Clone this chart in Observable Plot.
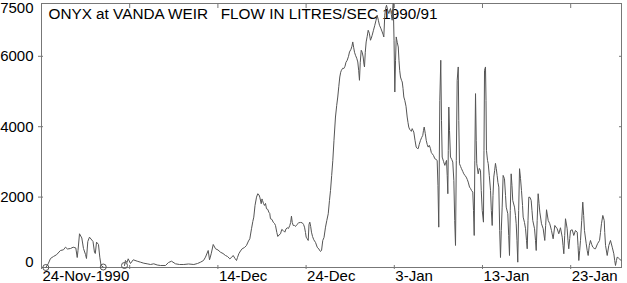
<!DOCTYPE html>
<html>
<head>
<meta charset="utf-8">
<script src="https://cdn.jsdelivr.net/npm/d3@7"></script>
<script src="https://cdn.jsdelivr.net/npm/@observablehq/plot@0.6"></script>
<style>
  html, body { margin: 0; padding: 0; background: #fff; }
  svg text { white-space: pre; }
</style>
</head>
<body>
<div id="chart"></div>
<script>
// Chart text
const title = "ONYX at VANDA WEIR   FLOW IN LITRES/SEC 1990/91";

// Days since 24-Nov-1990 00:00 (fractional) and flow in litres/sec; null = gap in record
const days = [
  0.49,0.76,1.02,1.36,1.70,2.15,2.49,2.72,2.95,3.29,3.59,3.89,4.05,4.14,4.31,4.57,4.76,4.99,5.10,5.25,
  5.44,5.61,5.84,6.01,6.10,6.24,6.46,6.61,6.75,7.00,
  8.20,
  9.41,9.52,9.69,9.83,10.09,10.40,10.85,11.22,11.60,11.98,12.36,12.73,13.12,13.49,14.06,14.40,14.74,15.19,15.65,
  16.13,16.67,17.27,17.69,18.03,18.37,18.59,18.90,19.05,19.24,19.47,19.73,20.01,20.29,20.58,20.86,21.09,21.35,21.54,21.73,
  21.94,22.11,22.22,22.37,22.56,22.75,23.02,23.24,23.47,23.62,23.81,23.96,24.07,24.21,24.38,24.52,24.66,24.75,24.91,25.00,
  25.06,25.17,25.28,25.40,25.51,25.66,25.77,25.88,25.96,26.13,26.27,26.42,26.53,26.68,26.79,26.93,27.10,27.24,27.40,27.59,
  27.72,27.86,28.00,28.15,28.25,28.34,28.43,28.54,28.68,28.80,28.97,29.17,29.37,29.56,29.71,29.82,29.93,30.01,30.10,30.24,
  30.33,30.42,30.52,30.61,30.73,30.87,31.07,31.26,31.44,31.63,31.75,31.89,32.03,32.20,32.35,32.51,32.65,32.77,32.90,33.03,
  33.16,33.33,33.47,33.59,33.71,33.82,33.92,34.01,34.15,34.27,34.41,34.52,34.66,34.81,34.92,35.09,35.20,35.29,35.39,35.49,
  35.60,35.74,35.86,35.96,36.05,36.14,36.25,36.36,36.47,36.56,36.62,36.71,36.81,36.93,37.04,37.17,37.30,37.39,37.49,37.64,
  37.79,37.93,38.06,38.19,38.32,38.47,38.63,38.72,38.81,38.92,39.02,39.12,39.25,39.38,39.48,39.57,39.66,39.76,39.83,39.88,
  39.97,40.06,40.14,40.22,40.33,40.45,40.53,40.61,40.70,40.82,40.90,40.99,41.08,41.19,41.33,41.46,41.55,41.64,41.74,41.84,
  41.93,42.03,42.12,42.21,42.35,42.48,42.60,42.71,42.83,42.97,43.11,43.23,43.31,43.39,43.51,43.62,43.73,43.84,43.97,44.10,
  44.19,44.29,44.44,44.59,44.72,44.86,44.95,45.04,45.16,45.27,45.35,45.43,45.58,45.73,45.83,45.92,46.00,46.07,46.12,46.18,
  46.26,46.37,46.51,46.63,46.75,46.85,46.94,47.03,47.13,47.25,47.31,47.39,47.51,47.62,47.76,47.88,48.01,48.15,48.27,48.38,
  48.53,48.64,48.75,48.90,48.98,49.06,49.13,49.21,49.29,49.35,49.51,49.64,49.77,49.86,49.97,50.11,50.17,50.23,50.34,50.40,
  50.45,50.57,50.65,50.77,50.91,51.00,51.10,51.19,51.28,51.38,51.47,51.56,51.66,51.75,51.85,51.95,52.04,52.13,52.23,52.34,
  52.49,52.61,52.69,52.87,52.97,53.06,53.15,53.25,53.34,53.43,53.63,53.74,53.82,53.91,54.00,54.10,54.20,54.31,54.42,54.54,
  54.61,54.76,54.88,54.99,55.07,55.16,55.25,55.39,55.52,55.61,55.70,55.90,56.01,56.09,56.20,56.31,56.41,56.50,56.69,56.88,
  57.06,57.16,57.26,57.45,57.63,57.82,58.01,58.20,58.47,58.65,58.84,59.04,59.13,59.22,59.32,59.41,59.60,59.69,59.78,59.89,
  59.98,60.17,60.35,60.54,60.74,60.83,60.92,61.02,61.11,61.25,61.37,61.47,61.56,61.76,61.87,61.98,62.11,62.24,62.38,62.51,
  62.66,62.81,63.04,63.27,63.38,63.49,63.64,63.80,63.86,63.95,64.14,64.32,64.51,64.71,64.89,64.99,65.08,65.19,65.27,65.42,
  65.53,65.70
];
const flow = [
  0,105,256,313,361,483,503,577,526,540,577,555,284,483,958,839,540,370,256,739,
  862,810,739,427,398,720,654,293,57,14,
  null,
  57,199,142,247,114,219,179,151,122,105,85,105,71,57,57,142,179,105,85,
  85,100,85,114,151,199,293,483,219,390,654,532,498,435,398,341,313,247,284,341,
  256,199,284,390,469,532,569,626,754,816,1101,1308,1431,1763,1999,2096,2062,1999,1812,1948,
  1905,1820,1763,1820,1669,1650,1573,1536,1385,1365,1288,1251,1194,995,882,924,958,1081,1052,1004,
  1095,1129,1109,1194,1280,1459,1280,1194,1194,1166,1223,1271,1280,1271,1223,1146,995,862,825,768,
  1223,1288,1166,1004,882,788,711,577,526,455,483,768,853,1146,1337,1527,1905,2190,2616,3043,
  3612,4275,4607,4843,5148,5412,5546,5603,5660,5651,5716,5830,5887,6000,6123,6200,6286,6408,6257,6115,
  6029,5944,5839,5603,5318,5830,6171,6115,5981,5773,5697,6115,6408,6570,6740,6655,6456,6513,6598,6740,
  6882,7025,7167,7025,6882,6797,6692,6627,6550,7167,7366,7451,7309,7215,7309,7357,7195,7025,7366,7499,
  6456,4985,5887,6550,6399,6265,5887,5603,5412,5318,5270,5090,4843,4749,4579,4275,4124,3990,3925,3896,
  3868,3945,3896,3848,3612,3421,3384,3376,3498,3612,3697,3754,3896,3990,3811,3612,3498,3421,3470,3376,
  3271,3233,3185,3092,3072,3043,2332,1146,4749,5887,4181,3137,3015,2901,2986,3043,2616,2096,3328,4559,
  3896,3137,3072,2995,2474,1337,626,3043,5318,5697,4181,2949,2872,2807,2730,2661,2616,2568,2503,2426,
  2284,2247,2190,2142,1621,910,3043,4940,3612,2949,2661,2816,2759,2190,1621,1288,3328,5603,5697,4749,
  3328,3043,2949,2616,2190,1621,1194,2048,2568,2759,2958,2816,2616,2417,2284,1052,284,1052,1715,2616,
  2523,2048,1715,1527,910,341,1621,2661,2332,1905,1715,1479,1243,768,151,1621,2807,2531,2190,1763,
  1431,1280,1101,768,532,1337,1999,1991,1905,1621,1337,1101,768,483,1337,2096,1820,1573,1243,1101,
  768,1194,1641,1337,1243,1052,816,1194,1101,958,1129,862,626,390,910,1385,1101,768,532,825,
  1052,1072,910,1052,1004,626,199,483,768,1337,1857,1479,1052,674,483,341,626,768,654,577,
  540,532,674,768,995,1243,1479,1337,995,626,341,626,768,577,390,199,57,199,293,270,
  247,199
];

// Markers drawn at the edges of the missing record (day, flow)
const markerDays = [0.49, 7.00, 9.41];
const markerFlow = [0, 14, 57];

// Axis ticks
const xTickDays = [0, 10, 20, 30, 40, 50, 60];
const xTickLabels = ["24-Nov-1990", "", "14-Dec", "24-Dec", "3-Jan", "13-Jan", "23-Jan"];
const yTicks = [0, 2000, 4000, 6000, 7500];
const xEndDay = 65.76;

const start = Date.UTC(1990, 10, 24);
const toDate = d => new Date(start + d * 864e5);

const series = days.map((d, i) => ({date: toDate(d), flow: flow[i]}));
const markers = markerDays.map((d, i) => ({date: toDate(d), flow: markerFlow[i]}));
const xTicks = xTickDays.map((d, i) => ({date: toDate(d), label: xTickLabels[i]}));
const xTickDates = xTicks.map(t => t.date);
const yMid = yTicks.filter(v => v > 0 && v < 7500);

const ink = "#555";
const axisInk = "#777";

const chart = Plot.plot({
  width: 627,
  height: 283,
  marginTop: 3,
  marginBottom: 16,
  marginLeft: 41,
  marginRight: 6,
  style: {fontFamily: "'Liberation Sans', Arial, sans-serif", fontSize: "15px", background: "#fff", color: "#000"},
  x: {type: "utc", domain: [toDate(0), toDate(xEndDay)]},
  y: {domain: [0, 7500]},
  marks: [
    Plot.frame({stroke: axisInk}),
    // ticks
    Plot.axisX(xTickDates, {anchor: "bottom", label: null, tickSize: 4, dy: -2, tickFormat: () => "", stroke: axisInk}),
    Plot.axisX(xTickDates, {anchor: "top", label: null, tickSize: 4, dy: 4, tickFormat: () => "", stroke: axisInk}),
    Plot.axisY(yMid, {anchor: "left", label: null, tickSize: 5, dx: 2, tickFormat: () => "", stroke: axisInk}),
    Plot.axisY(yMid, {anchor: "right", label: null, tickSize: 3, dx: -3, tickFormat: () => "", stroke: axisInk}),
    // labels
    Plot.text(xTicks, {x: "date", text: "label", frameAnchor: "bottom", textAnchor: "start", lineAnchor: "top", dx: 1, dy: 3, fill: "#000"}),
    Plot.text(yMid, {y: d => d, text: d => String(d), frameAnchor: "left", textAnchor: "end", dx: -8, fill: "#000"}),
    Plot.text([yTicks[0]], {y: d => d, text: d => String(d), frameAnchor: "left", textAnchor: "end", dx: -8, dy: -5, fill: "#000"}),
    Plot.text([yTicks[yTicks.length - 1]], {y: d => d, text: d => String(d), frameAnchor: "left", textAnchor: "end", dx: -8, dy: 5, fill: "#000"}),
    Plot.text([title], {frameAnchor: "top-left", textAnchor: "start", lineAnchor: "top", dx: 7, dy: 5, fontSize: 15.3, fill: "#000"}),
    // data
    Plot.line(series, {x: "date", y: "flow", stroke: ink, strokeWidth: 1}),
    Plot.dot(markers, {x: "date", y: "flow", r: 3, stroke: ink, strokeWidth: 1, fill: "none"})
  ]
});

document.getElementById("chart").appendChild(chart);
</script>
</body>
</html>
